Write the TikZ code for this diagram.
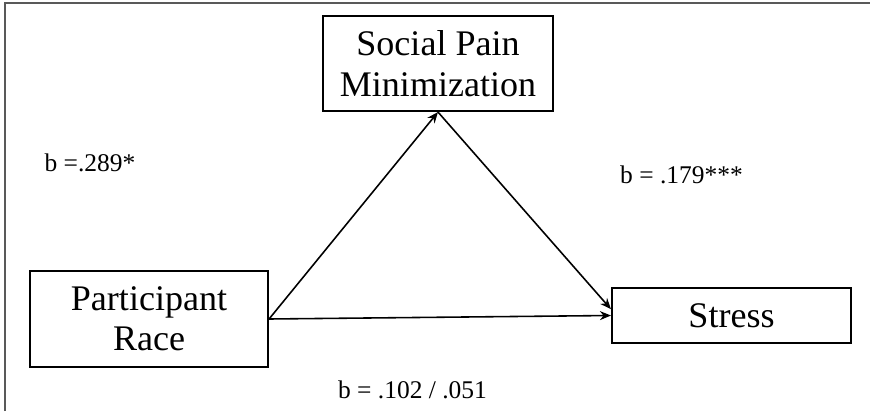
\documentclass[tikz,border=0pt]{standalone}
\usepackage{fontspec}
\setmainfont{Liberation Serif}
\usetikzlibrary{arrows.meta}

\tikzset{
  varbox/.style={draw, line width=1.2pt, align=center, inner sep=2pt,
    font=\fontsize{20.5}{23}\selectfont},
  path/.style={line width=0.9pt, -{Stealth[length=2.2mm,width=1.8mm]}},
  coef/.style={font=\fontsize{14.5}{17}\selectfont}
}

\begin{document}
\begin{tikzpicture}[scale=1.0]
  \useasboundingbox (0,0) rectangle (17.4,-8.22);
  % frame
  \draw[line width=1.4pt, black!65] (0.1,-8.22) -- (0.1,-0.06) -- (17.4,-0.06);

  \node[varbox, minimum width=4.6cm, minimum height=1.9cm] (social) at (8.76,-1.27) {Social Pain\\Minimization};
  \node[varbox, minimum width=4.76cm, minimum height=1.92cm] (race) at (2.98,-6.38) {Participant\\Race};
  \node[varbox, minimum width=4.78cm, minimum height=1.1cm] (stress) at (14.63,-6.31) {Stress};

  \draw[path] (race.east) -- (social.south);
  \draw[path] (social.south) -- (stress.177);
  \draw[path] (race.east) -- (stress.west);

  \node[coef] (a) at (1.8,-3.26) {b =.289*};
  \node[coef] (b) at (13.63,-3.5) {b = .179***};
  \node[coef] (c) at (8.25,-7.8) {b = .102 / .051};
\end{tikzpicture}
\end{document}
